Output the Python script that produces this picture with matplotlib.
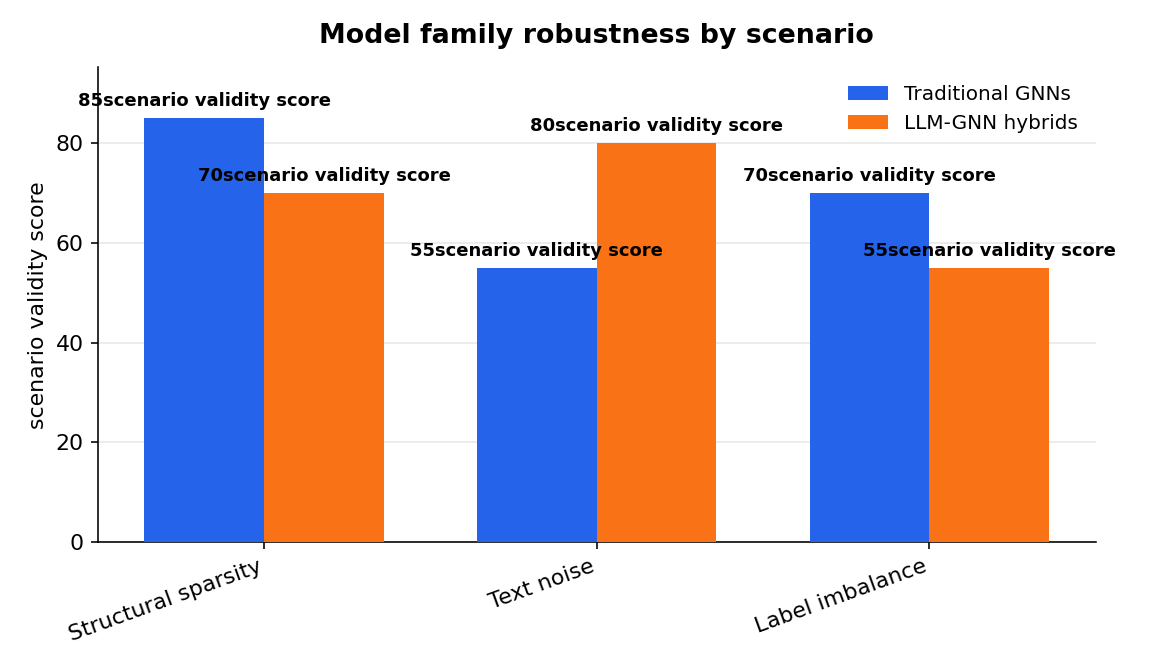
import matplotlib
matplotlib.use("Agg")
import matplotlib.pyplot as plt
import numpy as np

scenarios = ["Structural sparsity", "Text noise", "Label imbalance"]
traditional = [85, 55, 70]
hybrids = [70, 80, 55]
series_names = ["Traditional GNNs", "LLM-GNN hybrids"]
metric = "scenario validity score"

fig, ax = plt.subplots(figsize=(8, 4.6667), dpi=144)

x = np.arange(len(scenarios))
w = 0.36
b1 = ax.bar(x - w/2, traditional, w, color="#2563EB", label=series_names[0], zorder=3)
b2 = ax.bar(x + w/2, hybrids, w, color="#F97316", label=series_names[1], zorder=3)

# value labels above each bar
for bars in (b1, b2):
    for r in bars:
        ax.annotate(f"{int(r.get_height())}{metric}",
                    (r.get_x() + r.get_width()/2, r.get_height()),
                    xytext=(0, 4), textcoords="offset points",
                    ha="center", va="bottom", fontsize=9, fontweight="bold")

ax.set_xlim(-0.5, 2.5)
ax.set_ylim(0, 95.2)
ax.set_xticks(x)
ax.set_xticklabels(scenarios, rotation=20, ha="right", fontsize=11)
ax.tick_params(axis="y", labelsize=11)
ax.set_ylabel(metric, fontsize=11)
ax.set_title("Model family robustness by scenario", fontsize=13.4, fontweight="bold", pad=12)
ax.yaxis.grid(True, color="#e8e8e8", linewidth=0.8, zorder=0)
ax.spines["top"].set_visible(False)
ax.spines["right"].set_visible(False)
ax.legend(frameon=False, loc="upper right", fontsize=10)

fig.subplots_adjust(left=0.085, right=0.951, top=0.9, bottom=0.193)
fig.savefig("out.png", dpi=144)
